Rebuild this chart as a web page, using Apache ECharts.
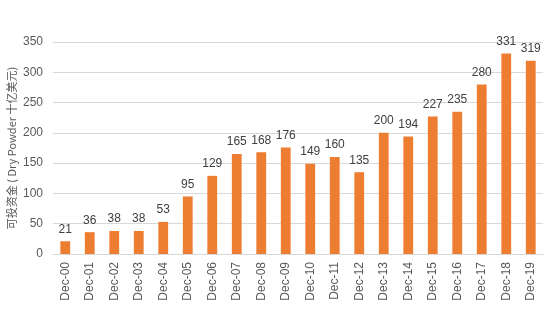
<!DOCTYPE html>
<html><head><meta charset="utf-8">
<script src="https://cdn.jsdelivr.net/npm/echarts@6/dist/echarts.min.js"></script>
<style>html,body{margin:0;padding:0;background:#fff}#c{width:554px;height:328px}</style>
</head><body><div id="c"></div>
<script>
var categories = ['Dec-00','Dec-01','Dec-02','Dec-03','Dec-04','Dec-05','Dec-06','Dec-07','Dec-08','Dec-09','Dec-10','Dec-11','Dec-12','Dec-13','Dec-14','Dec-15','Dec-16','Dec-17','Dec-18','Dec-19'];
var values = [21,36,38,38,53,95,129,165,168,176,149,160,135,200,194,227,235,280,331,319];
var yName = '可投资金 ( Dry Powder 十亿美元)';
var chart = echarts.init(document.getElementById('c'));
chart.setOption({
  animation: false,
  textStyle: {fontFamily: 'Noto Sans CJK SC, Liberation Sans, sans-serif'},
  grid: {left: 53, right: 11, top: 42, bottom: 74, containLabel: false, outerBoundsMode: 'none'},
  xAxis: {
    type: 'category', data: categories,
    axisLine: {lineStyle: {color: '#d9d9d9'}},
    axisTick: {show: false},
    axisLabel: {rotate: 90, color: '#595959', fontSize: 12, margin: 8, interval: 0, fontFamily: 'Liberation Sans, sans-serif'}
  },
  yAxis: {
    type: 'value', min: 0, max: 350, interval: 50,
    name: yName, nameLocation: 'middle', nameRotate: 90, nameGap: 36, nameMoveOverlap: false,
    nameTextStyle: {color: '#595959', fontSize: 11},
    axisLine: {show: false}, axisTick: {show: false},
    splitLine: {lineStyle: {color: '#d9d9d9'}},
    axisLabel: {color: '#595959', fontSize: 12, margin: 10, fontFamily: 'Liberation Sans, sans-serif'}
  },
  series: [{
    type: 'bar', data: values, barWidth: '40%',
    itemStyle: {color: '#ED7D31'},
    label: {show: true, position: 'top', color: '#404040', fontSize: 12, distance: 6, fontFamily: 'Liberation Sans, sans-serif'}
  }]
});
</script></body></html>
